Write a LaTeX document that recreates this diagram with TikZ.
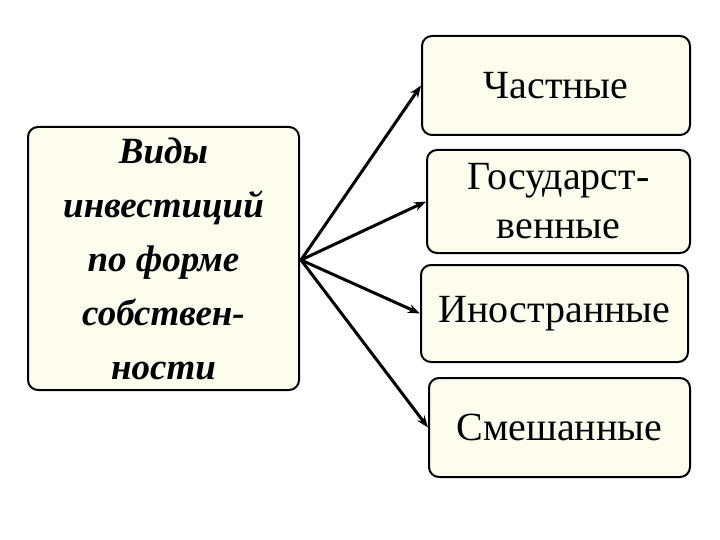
\documentclass[tikz,border=0pt]{standalone}
\usepackage{fontspec}
\setmainfont{Liberation Serif}
\usetikzlibrary{arrows.meta}

\definecolor{boxfill}{HTML}{FDFDEE}

\tikzset{
  kindbox/.style={draw, line width=2pt, rounded corners=10pt, fill=boxfill,
    align=center, inner sep=0pt, font=\fontsize{40}{49}\selectfont},
  mainbox/.style={kindbox, font=\fontsize{37}{54}\selectfont\bfseries\itshape},
  kindarrow/.style={line width=3pt, -{Stealth[length=12pt,width=9pt]}}
}

\begin{document}
\begin{tikzpicture}[x=1pt,y=-1pt]
  \useasboundingbox (0,0) rectangle (720,540);

  \node[mainbox, minimum width=271pt, minimum height=263pt] (kinds) at (163.5,258.5)
    {Виды\\инвестиций\\по форме\\собствен-\\ности};

  \node[kindbox, minimum width=268pt, minimum height=99pt] (private) at (556,85.5) {Частные};
  \node[kindbox, minimum width=263pt, minimum height=103pt] (state) at (558.5,201.5)
    {Государст-\\венные};
  \node[kindbox, minimum width=267pt, minimum height=97pt] (foreign) at (554.5,313.5) {Иностранные};
  \node[kindbox, minimum width=261pt, minimum height=99pt] (mixed) at (559.5,427.5) {Смешанные};

  \coordinate (hub) at (301,260);
  \draw[kindarrow] (hub) -- (private.west);
  \draw[kindarrow] (hub) -- (state.west);
  \draw[kindarrow] (hub) -- (foreign.west);
  \draw[kindarrow] (hub) -- (mixed.west);
\end{tikzpicture}
\end{document}
